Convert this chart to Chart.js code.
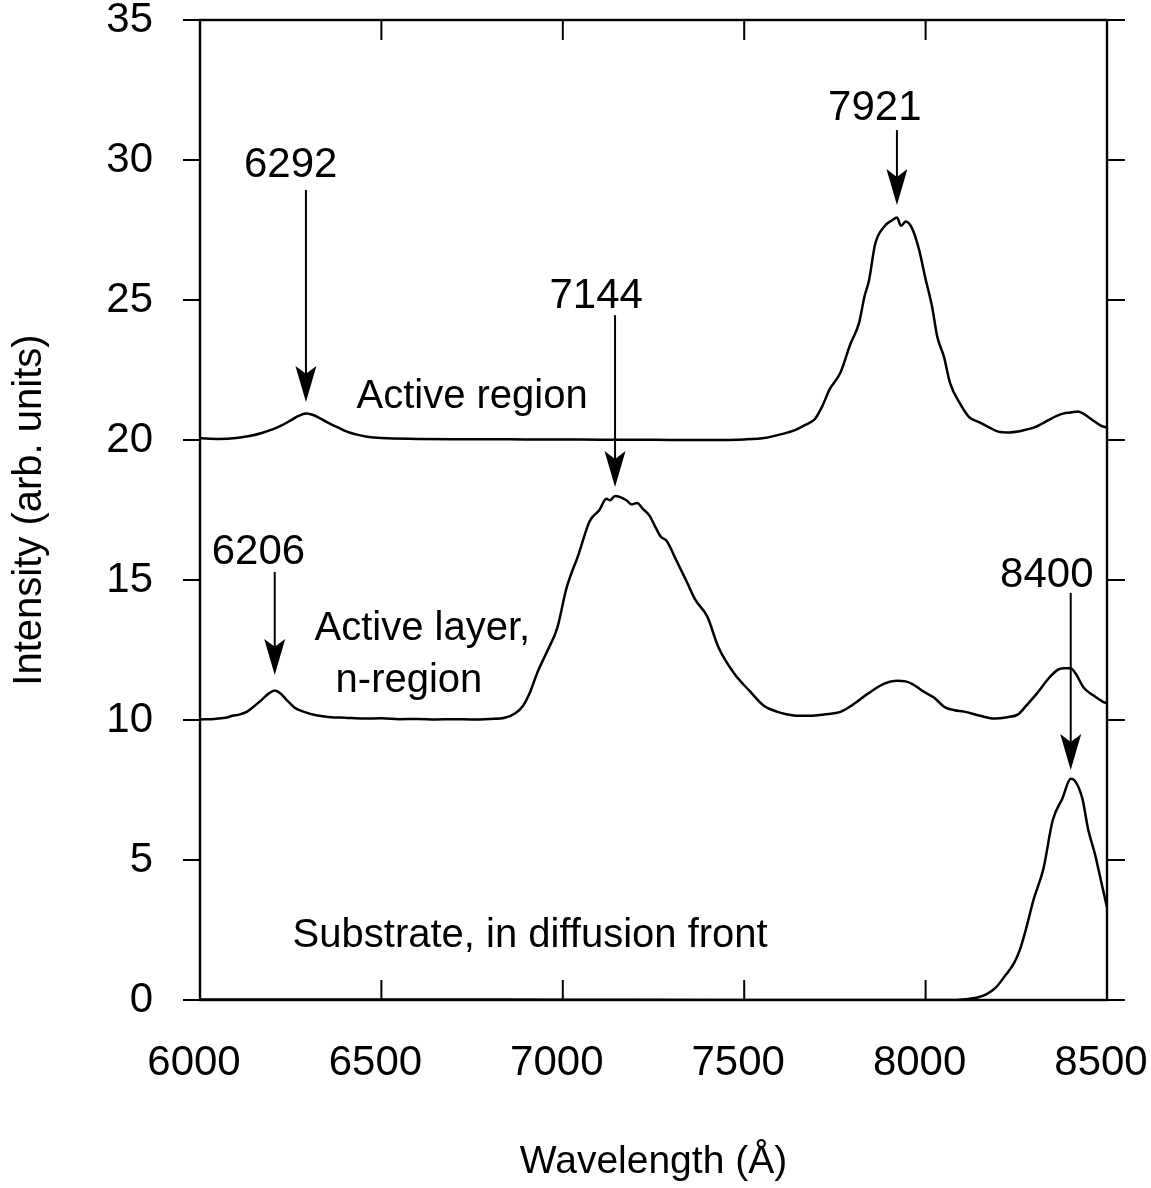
<!DOCTYPE html>
<html>
<head>
<meta charset="utf-8">
<title>Luminescence spectra</title>
<script src="https://cdn.jsdelivr.net/npm/chart.js@4.4.1/dist/chart.umd.min.js"></script>
<style>
  html, body { margin: 0; padding: 0; background: #fff; }
  #wrap { width: 1151px; height: 1188px; }
  canvas { display: block; }
</style>
</head>
<body>
<div id="wrap"><canvas id="spectra" width="1151" height="1188"></canvas></div>
<script>
// ---- Spectra (wavelength in Å, intensity in arbitrary units) ----
const activeRegionWavelength = [
  6000, 6050, 6100, 6140, 6170, 6200, 6225, 6250, 6270, 6292, 6310, 6330, 6355, 6380, 6405,
  6430, 6460, 6500, 6600, 6700, 6800, 6900, 7000, 7100, 7200, 7300, 7400, 7500, 7560, 7600,
  7640, 7670, 7695, 7715, 7735, 7765, 7792, 7817, 7831, 7844, 7861, 7888, 7908, 7921, 7932,
  7945, 7963, 7982, 7999, 8018, 8032, 8051, 8067, 8095, 8120, 8150, 8175, 8200, 8230, 8255,
  8280, 8300, 8320, 8340, 8360, 8381, 8400, 8420, 8440, 8467, 8485, 8500
];
const activeRegionIntensity = [
  20.06, 20.04, 20.07, 20.15, 20.25, 20.38, 20.52, 20.70, 20.85, 20.95, 20.90, 20.78, 20.60, 20.45, 20.30,
  20.20, 20.12, 20.07, 20.04, 20.03, 20.03, 20.02, 20.02, 20.01, 20.01, 20.00, 20.00, 20.02, 20.08, 20.20,
  20.35, 20.55, 20.75, 21.20, 21.80, 22.40, 23.40, 24.20, 25.10, 25.70, 27.00, 27.65, 27.85, 27.95, 27.65,
  27.80, 27.55, 26.80, 25.80, 24.75, 23.70, 22.95, 22.05, 21.30, 20.82, 20.62, 20.45, 20.30, 20.27, 20.30,
  20.38, 20.45, 20.58, 20.72, 20.85, 20.95, 20.98, 21.02, 20.90, 20.65, 20.50, 20.45
];

const nRegionWavelength = [
  6000, 6040, 6070, 6090, 6110, 6130, 6150, 6170, 6190, 6206, 6222, 6240, 6260, 6285, 6320,
  6360, 6400, 6450, 6500, 6550, 6600, 6650, 6700, 6750, 6800, 6840, 6870, 6890, 6910, 6930,
  6955, 6985, 7010, 7043, 7074, 7101, 7120, 7130, 7144, 7160, 7175, 7190, 7205, 7220, 7239,
  7255, 7270, 7286, 7313, 7343, 7365, 7398, 7429, 7473, 7514, 7555, 7590, 7619, 7650, 7682,
  7720, 7767, 7800, 7842, 7886, 7920, 7945, 7968, 7990, 8023, 8054, 8080, 8106, 8150, 8191,
  8225, 8255, 8280, 8307, 8340, 8365, 8381, 8400, 8414, 8436, 8460, 8489, 8500
];
const nRegionIntensity = [
  10.02, 10.04, 10.08, 10.15, 10.20, 10.30, 10.50, 10.72, 10.95, 11.05, 10.95, 10.70, 10.45, 10.30, 10.17,
  10.10, 10.08, 10.05, 10.06, 10.03, 10.04, 10.02, 10.03, 10.02, 10.04, 10.08, 10.25, 10.50, 11.00, 11.70,
  12.40, 13.30, 14.70, 15.90, 17.10, 17.50, 17.90, 17.85, 18.00, 17.95, 17.85, 17.70, 17.75, 17.55, 17.30,
  16.90, 16.55, 16.40, 15.70, 14.90, 14.30, 13.70, 12.60, 11.65, 11.05, 10.50, 10.30, 10.20, 10.15, 10.15,
  10.20, 10.30, 10.55, 10.95, 11.30, 11.40, 11.38, 11.25, 11.05, 10.80, 10.45, 10.35, 10.30, 10.15, 10.05,
  10.10, 10.20, 10.55, 10.95, 11.50, 11.80, 11.85, 11.85, 11.65, 11.15, 10.90, 10.65, 10.60
];

const substrateWavelength = [
  6000, 6500, 7000, 7500, 8000, 8080, 8112, 8140, 8167, 8194, 8221, 8243, 8260, 8276, 8298,
  8325, 8350, 8377, 8400, 8410, 8432, 8448, 8467, 8481, 8500
];
const substrateIntensity = [
  0.02, 0.02, 0.01, 0.00, 0.00, 0.00, 0.03, 0.08, 0.20, 0.45, 0.90, 1.30, 1.80, 2.50, 3.60,
  4.70, 6.40, 7.20, 7.90, 7.85, 7.20, 6.10, 5.20, 4.40, 3.30
];

// ---- Axis ticks ----
const wavelengthTicks = [6000, 6500, 7000, 7500, 8000, 8500];
const intensityTicks = [0, 5, 10, 15, 20, 25, 30, 35];

// ---- Peak call-outs ----
const peakLabels = ['6292', '7921', '7144', '6206', '8400'];
const peakWavelengths = [6292, 7921, 7144, 6206, 8400];

// Where each call-out arrow starts/ends and where its number sits (axis units)
const calloutPlacement = [
  { tail: 28.93, tip: 21.36, labelDx: -42, labelY: 29.39 },
  { tail: 31.07, tip: 28.39, labelDx: -61, labelY: 31.43 },
  { tail: 24.46, tip: 18.32, labelDx: -52, labelY: 24.71 },
  { tail: 15.29, tip: 11.61, labelDx: -45, labelY: 15.57 },
  { tail: 14.54, tip: 8.21,  labelDx: -66, labelY: 14.75 }
];

// Curve captions
const curveCaptions = ['Active region', 'Active layer,', 'n-region', 'Substrate, in diffusion front'];
const captionPlacement = [
  { x: 6750, y: 21.14 },
  { x: 6613, y: 12.86 },
  { x: 6576, y: 11.00 },
  { x: 6910, y: 1.89 }
];

const FONT = "'Liberation Sans', Arial, Helvetica, sans-serif";

function toPoints(xs, ys) {
  return xs.map((x, i) => ({ x: x, y: ys[i] }));
}

function arrowDown(ctx, x, yTail, yTip) {
  const headLen = 36, halfW = 10.5;
  ctx.beginPath();
  ctx.moveTo(x, yTail);
  ctx.lineTo(x, yTip - headLen * 0.6);
  ctx.stroke();
  ctx.beginPath();
  ctx.moveTo(x, yTip);
  ctx.lineTo(x - halfW, yTip - headLen);
  ctx.lineTo(x, yTip - headLen * 0.78);
  ctx.lineTo(x + halfW, yTip - headLen);
  ctx.closePath();
  ctx.fill();
}

// Frame, inward x ticks, outward y ticks, arrows and captions
const frameAndNotes = {
  id: 'frameAndNotes',
  afterDatasetsDraw(chart) {
    const { ctx, chartArea: a, scales: { x, y } } = chart;
    ctx.save();
    ctx.strokeStyle = '#000';
    ctx.fillStyle = '#000';
    ctx.lineWidth = 2.4;
    ctx.lineCap = 'butt';
    ctx.strokeRect(a.left, a.top, a.right - a.left, a.bottom - a.top);

    ctx.lineWidth = 2;
    ctx.beginPath();
    x.ticks.forEach(t => {
      const px = x.getPixelForValue(t.value);
      ctx.moveTo(px, a.bottom); ctx.lineTo(px, a.bottom - 20);
      ctx.moveTo(px, a.top); ctx.lineTo(px, a.top + 20);
    });
    y.ticks.forEach(t => {
      const py = y.getPixelForValue(t.value);
      ctx.moveTo(a.left - 17, py); ctx.lineTo(a.left, py);
      ctx.moveTo(a.right, py); ctx.lineTo(a.right + 18, py);
    });
    ctx.stroke();

    ctx.font = '42px ' + FONT;
    ctx.textAlign = 'center';
    ctx.textBaseline = 'alphabetic';
    peakWavelengths.forEach((w, i) => {
      const p = calloutPlacement[i];
      const px = x.getPixelForValue(w);
      arrowDown(ctx, px, y.getPixelForValue(p.tail), y.getPixelForValue(p.tip));
      ctx.fillText(peakLabels[i], x.getPixelForValue(w + p.labelDx), y.getPixelForValue(p.labelY));
    });

    ctx.font = '40px ' + FONT;
    curveCaptions.forEach((txt, i) => {
      const c = captionPlacement[i];
      ctx.fillText(txt, x.getPixelForValue(c.x), y.getPixelForValue(c.y));
    });
    ctx.restore();
  }
};

const lineStyle = {
  borderColor: '#000',
  borderWidth: 2.5,
  pointRadius: 0,
  cubicInterpolationMode: 'monotone',
  fill: false
};

new Chart(document.getElementById('spectra'), {
  type: 'line',
  data: {
    datasets: [
      Object.assign({ label: 'Active region', data: toPoints(activeRegionWavelength, activeRegionIntensity) }, lineStyle),
      Object.assign({ label: 'Active layer, n-region', data: toPoints(nRegionWavelength, nRegionIntensity) }, lineStyle),
      Object.assign({ label: 'Substrate, in diffusion front', data: toPoints(substrateWavelength, substrateIntensity) }, lineStyle)
    ]
  },
  options: {
    responsive: false,
    animation: false,
    devicePixelRatio: 1,
    layout: { padding: { left: 0, right: 44, top: 20, bottom: 0 } },
    plugins: { legend: { display: false }, tooltip: { enabled: false } },
    scales: {
      x: {
        type: 'linear',
        min: 6000,
        max: 8500,
        afterBuildTicks: s => { s.ticks = wavelengthTicks.map(v => ({ value: v })); },
        afterFit: s => { s.height = 188; s.paddingLeft = 0; s.paddingRight = 0; },
        grid: { display: false, drawTicks: false },
        border: { display: false },
        ticks: {
          color: '#000', padding: 38, maxRotation: 0, autoSkip: false, labelOffset: -6,
          font: { family: FONT, size: 42 },
          callback: v => String(v)
        },
        title: {
          display: true,
          text: 'Wavelength (Å)',
          color: '#000',
          font: { family: FONT, size: 39 },
          padding: { top: 0, bottom: 2 }
        }
      },
      y: {
        type: 'linear',
        min: 0,
        max: 35,
        afterBuildTicks: s => { s.ticks = intensityTicks.map(v => ({ value: v })); },
        afterFit: s => { s.width = 200; s.paddingTop = 0; s.paddingBottom = 0; },
        grid: { display: false, drawTicks: false },
        border: { display: false },
        ticks: {
          color: '#000', padding: 47, autoSkip: false,
          font: { family: FONT, size: 42 },
          callback: v => String(v)
        },
        title: {
          display: true,
          text: 'Intensity (arb. units)',
          color: '#000',
          font: { family: FONT, size: 40 },
          padding: { top: 6, bottom: 0 }
        }
      }
    }
  },
  plugins: [frameAndNotes]
});
</script>
</body>
</html>
